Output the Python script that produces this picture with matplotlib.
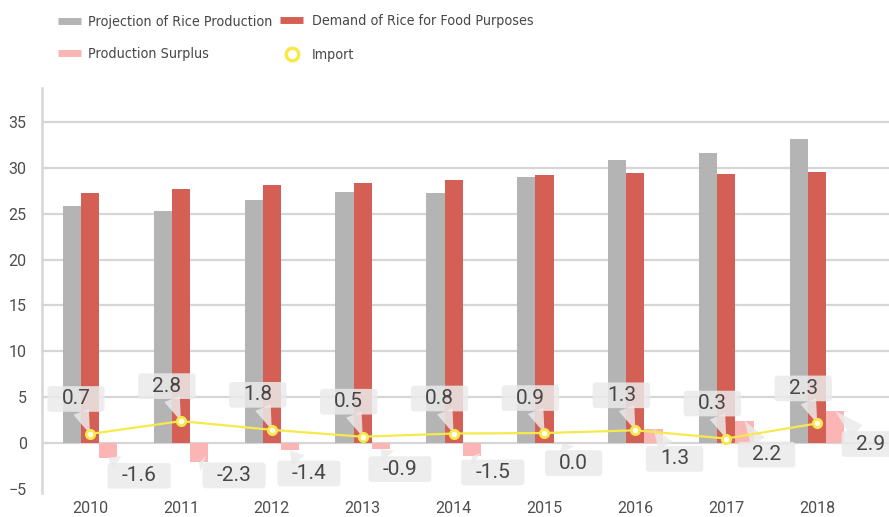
import numpy as np
import matplotlib.pyplot as plt
from matplotlib import font_manager
from matplotlib.lines import Line2D
from matplotlib.patches import BoxStyle

# data
years = ['2010', '2011', '2012', '2013', '2014', '2015', '2016', '2017', '2018']
production = [25.8, 25.3, 26.5, 27.4, 27.3, 29.05, 30.8, 31.6, 33.1]
demand = [27.3, 27.7, 28.1, 28.3, 28.7, 29.2, 29.4, 29.3, 29.6]
surplus = [-1.6, -2.1, -0.8, -0.65, -1.45, 0.0, 1.55, 2.45, 3.5]
imports = [1.0, 2.4, 1.45, 0.7, 1.05, 1.1, 1.4, 0.5, 2.15]
import_labels = ['0.7', '2.8', '1.8', '0.5', '0.8', '0.9', '1.3', '0.3', '2.3']
surplus_labels = ['-1.6', '-2.3', '-1.4', '-0.9', '-1.5', '0.0', '1.3', '2.2', '2.9']
yticks = [-5, 0, 5, 10, 15, 20, 25, 30, 35]
series_names = ['Projection of Rice Production', 'Demand of Rice for Food Purposes',
                'Production Surplus', 'Import']

# label box offsets (pixels right / down from the bar end)
surplus_offsets = [(31, 18), (35, 13), (19, 23), (19, 20), (21, 16),
                   (11, 20), (21, 30), (22, 34), (35, 33)]

c_gray = '#b4b4b4'
c_red = '#d46055'
c_pink = '#fbb5b5'
c_yellow = '#f6e94c'
c_box = '#eaeaea'
c_text = '#474747'

plt.rcParams['font.family'] = ['Roboto', 'DejaVu Sans']

# legend text in a narrow face if there is one
has_cond = any(f.name == 'DejaVu Sans' and f.stretch == 'condensed'
               for f in font_manager.fontManager.ttflist)
if has_cond:
    leg_font = dict(family='DejaVu Sans', stretch='condensed', size=10.3)
else:
    leg_font = dict(family='Roboto', size=10)
fs_px = leg_font['size'] * 100 / 72


def callout_box(x0, y0, width, height, mutation_size):
    # rounded box, wide horizontally, tight vertically
    padx = 0.68 * mutation_size
    pady = 0.16 * mutation_size
    return BoxStyle.Round(pad=0, rounding_size=0.15)(
        x0 - padx, y0 - pady, width + 2 * padx, height + 2 * pady, mutation_size)


fig = plt.figure(figsize=(8.89, 5.17), dpi=100)
ax = fig.add_axes([42 / 889, 1 - 492.7 / 517, 1 - 42 / 889, (492.7 - 88) / 517])

x = np.arange(len(years))
w = 0.2
ax.bar(x - w, production, w, color=c_gray, zorder=2)
ax.bar(x, demand, w, color=c_red, zorder=2)
ax.bar(x + w, surplus, w, color=c_pink, zorder=2)
ax.plot(x, imports, color=c_yellow, lw=1.6, marker='o', ms=6, mfc='white',
        mec=c_yellow, mew=2, zorder=6)

ax.set_xlim(-0.528, 8.79)
ax.set_ylim(-5.4, 38.7)

for t in yticks:
    if t > -5:
        ax.axhline(t, color='#d6d6d6', lw=1.6, zorder=1)

ax.set_yticks(yticks)
ax.set_xticks(x)
ax.set_xticklabels(years)
ax.tick_params(axis='both', length=0, labelsize=11.5, labelcolor='#4d4d4d')
ax.tick_params(axis='y', pad=11)
ax.tick_params(axis='x', pad=6)
for s in ['top', 'right', 'bottom']:
    ax.spines[s].set_visible(False)
ax.spines['left'].set_color('#d6d6d6')
ax.spines['left'].set_linewidth(1.8)

box = dict(boxstyle=callout_box, fc=c_box, ec='none', alpha=0.85)
arrow = dict(arrowstyle='wedge,tail_width=0.8', fc=c_box, ec='none',
             alpha=0.85, shrinkA=0, shrinkB=0)

for i in range(len(years)):
    ax.annotate(import_labels[i], xy=(x[i], imports[i]), xytext=(-14 * 0.72, 35 * 0.72),
                textcoords='offset points', ha='center', va='center', fontsize=15,
                color=c_text, bbox=box, arrowprops=arrow, zorder=5)
    dx, dy = surplus_offsets[i]
    ax.annotate(surplus_labels[i], xy=(x[i] + w, surplus[i]), xytext=(dx * 0.72, -dy * 0.72),
                textcoords='offset points', ha='center', va='center', fontsize=15,
                color=c_text, bbox=box, arrowprops=arrow, zorder=5,
                annotation_clip=False)

# legend: one small legend per entry so each sits where the original has it
handles = [Line2D([], [], color=c_gray, lw=5, solid_capstyle='butt'),
           Line2D([], [], color=c_red, lw=5, solid_capstyle='butt'),
           Line2D([], [], color=c_pink, lw=5, solid_capstyle='butt'),
           Line2D([], [], ls='none', marker='o', ms=9, mfc='white', mec=c_yellow, mew=2.5)]
leg_x = [58, 280, 58, 280]
leg_y = [22, 21, 54, 55]
text_gap = [7, 9, 7, 9]
for h, name, lx, ly, gap in zip(handles, series_names, leg_x, leg_y, text_gap):
    fig.legend([h], [name], loc='center left',
               bbox_to_anchor=(lx / 889, 1 - ly / 517), frameon=False,
               prop=leg_font, handlelength=23 / fs_px, handletextpad=gap / fs_px,
               borderpad=0, borderaxespad=0, labelcolor=c_text)

fig.savefig('out.png', dpi=100)
